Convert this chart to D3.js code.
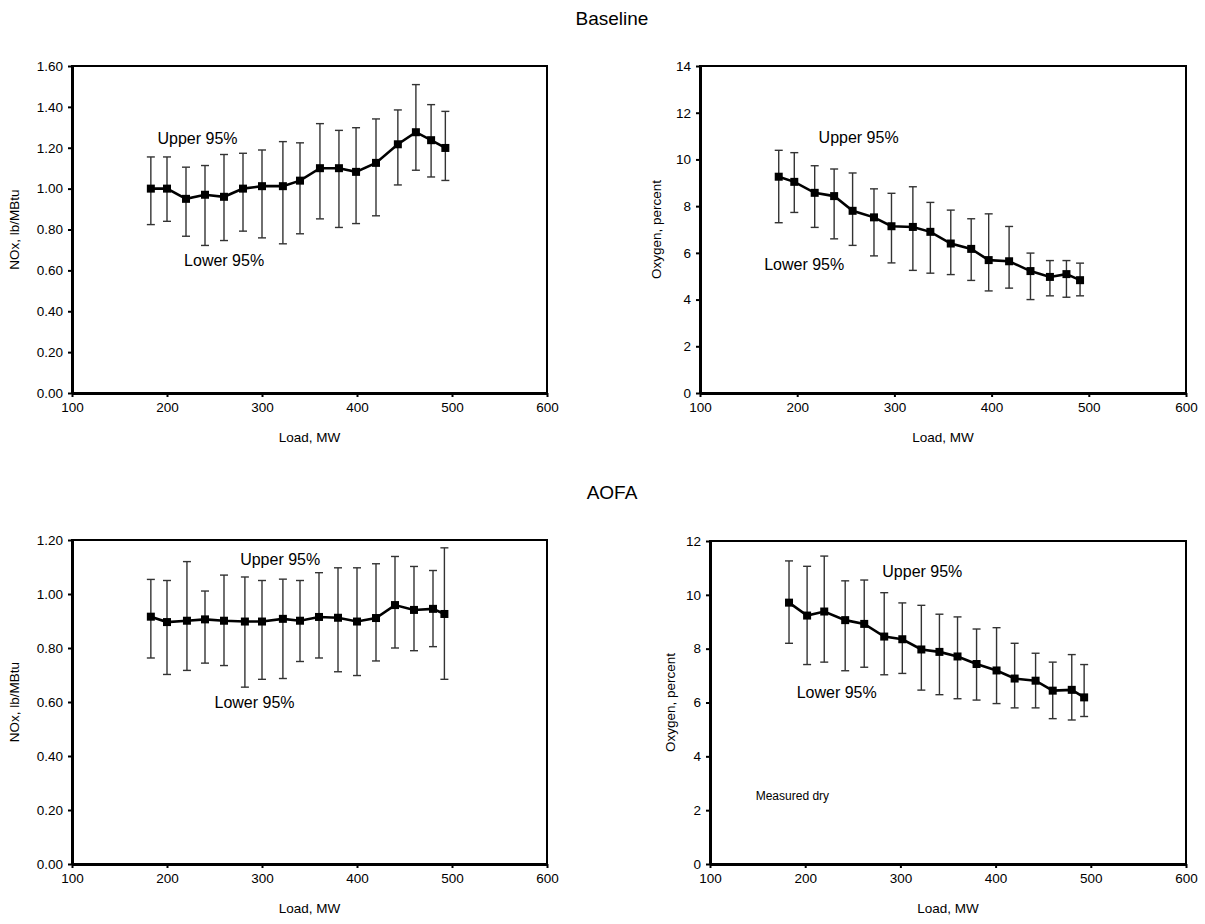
<!DOCTYPE html>
<html>
<head>
<meta charset="utf-8">
<script src="https://cdn.jsdelivr.net/npm/d3@7"></script>
<style>
	body { margin: 0; background: #fff; }
	text { font-family: Arial, "Liberation Sans", sans-serif; fill: #000; }
</style>
</head>
<body>
<script>
// ---- data ----
const xTicks = [100, 200, 300, 400, 500, 600];
const noxTicksBase = [0, 0.2, 0.4, 0.6, 0.8, 1.0, 1.2, 1.4, 1.6];
const noxTicksAofa = [0, 0.2, 0.4, 0.6, 0.8, 1.0, 1.2];
const o2TicksBase = [0, 2, 4, 6, 8, 10, 12, 14];
const o2TicksAofa = [0, 2, 4, 6, 8, 10, 12];

// Baseline NOx
const baseNoxLoad = [183, 200, 220, 240, 260, 280, 300, 322, 340, 361, 381, 399, 420, 443, 462, 478, 493];
const baseNox = [1.00, 1.00, 0.95, 0.97, 0.96, 1.00, 1.012, 1.012, 1.039, 1.10, 1.10, 1.082, 1.126, 1.217, 1.276, 1.237, 1.199];
const baseNoxUpper = [1.155, 1.155, 1.105, 1.113, 1.167, 1.173, 1.189, 1.230, 1.224, 1.318, 1.285, 1.298, 1.341, 1.385, 1.509, 1.411, 1.378];
const baseNoxLower = [0.824, 0.840, 0.767, 0.722, 0.746, 0.792, 0.759, 0.730, 0.779, 0.852, 0.810, 0.829, 0.867, 1.018, 1.090, 1.057, 1.040];

// Baseline O2
const baseO2Load = [181, 197, 218, 238, 257, 279, 297, 319, 337, 358, 379, 397, 418, 440, 460, 477, 491];
const baseO2 = [9.26, 9.04, 8.57, 8.43, 7.80, 7.52, 7.14, 7.11, 6.90, 6.40, 6.17, 5.69, 5.64, 5.22, 4.97, 5.09, 4.83];
const baseO2Upper = [10.39, 10.29, 9.73, 9.59, 9.42, 8.74, 8.55, 8.83, 8.16, 7.83, 7.46, 7.67, 7.13, 5.99, 5.67, 5.67, 5.56];
const baseO2Lower = [7.29, 7.73, 7.09, 6.60, 6.32, 5.87, 5.57, 5.25, 5.13, 5.07, 4.82, 4.37, 4.49, 4.00, 4.16, 4.10, 4.16];

// AOFA NOx
const aofaNoxLoad = [183, 200, 221, 240, 260, 282, 300, 322, 340, 360, 380, 400, 420, 440, 460, 480, 492];
const aofaNox = [0.916, 0.896, 0.901, 0.906, 0.901, 0.898, 0.898, 0.908, 0.901, 0.915, 0.912, 0.898, 0.911, 0.959, 0.941, 0.945, 0.926];
const aofaNoxUpper = [1.054, 1.050, 1.120, 1.011, 1.070, 1.063, 1.050, 1.055, 1.050, 1.079, 1.097, 1.097, 1.112, 1.139, 1.102, 1.087, 1.171];
const aofaNoxLower = [0.763, 0.702, 0.717, 0.744, 0.735, 0.655, 0.684, 0.687, 0.750, 0.763, 0.712, 0.698, 0.752, 0.800, 0.790, 0.805, 0.684];

// AOFA O2
const aofaO2Load = [183, 202, 220, 242, 262, 283, 302, 322, 341, 360, 380, 401, 420, 442, 460, 480, 493];
const aofaO2 = [9.71, 9.23, 9.38, 9.06, 8.92, 8.45, 8.35, 7.97, 7.88, 7.71, 7.43, 7.19, 6.89, 6.81, 6.44, 6.47, 6.19];
const aofaO2Upper = [11.26, 11.06, 11.44, 10.52, 10.55, 10.08, 9.70, 9.61, 9.28, 9.18, 8.73, 8.78, 8.20, 7.83, 7.50, 7.78, 7.41];
const aofaO2Lower = [8.20, 7.41, 7.50, 7.18, 7.31, 7.03, 7.08, 6.46, 6.29, 6.14, 6.09, 5.96, 5.80, 5.80, 5.40, 5.35, 5.48];

const width = 1205, height = 924;
const tickFont = '13.5px', noteFont = '16px';

let svg = d3.select('body').append('svg')
	.attr('width', width)
	.attr('height', height);

// section titles
svg.append('text').attr('x', 612).attr('y', 25)
	.attr('text-anchor', 'middle').attr('font-size', '19px').text('Baseline');
svg.append('text').attr('x', 612).attr('y', 499)
	.attr('text-anchor', 'middle').attr('font-size', '19px').text('AOFA');

drawPanel({
	box: { left: 72, right: 547, top: 66, bottom: 393 },
	load: baseNoxLoad, mean: baseNox, upper: baseNoxUpper, lower: baseNoxLower,
	yTicks: noxTicksBase, yFormat: d3.format('.2f'), yTitle: 'NOx, lb/MBtu', yTitleX: 14,
	notes: [
		{ text: 'Upper 95%', x: 190, y: 1.217, size: noteFont },
		{ text: 'Lower 95%', x: 218, y: 0.621, size: noteFont }
	]
});

drawPanel({
	box: { left: 700, right: 1186, top: 66, bottom: 393 },
	load: baseO2Load, mean: baseO2, upper: baseO2Upper, lower: baseO2Lower,
	yTicks: o2TicksBase, yFormat: d3.format('d'), yTitle: 'Oxygen, percent', yTitleX: 656,
	notes: [
		{ text: 'Upper 95%', x: 222, y: 10.71, size: noteFont },
		{ text: 'Lower 95%', x: 166, y: 5.27, size: noteFont }
	]
});

drawPanel({
	box: { left: 72, right: 547, top: 540, bottom: 864 },
	load: aofaNoxLoad, mean: aofaNox, upper: aofaNoxUpper, lower: aofaNoxLower,
	yTicks: noxTicksAofa, yFormat: d3.format('.2f'), yTitle: 'NOx, lb/MBtu', yTitleX: 14,
	notes: [
		{ text: 'Upper 95%', x: 277, y: 1.109, size: noteFont },
		{ text: 'Lower 95%', x: 250, y: 0.577, size: noteFont }
	]
});

drawPanel({
	box: { left: 710, right: 1186, top: 541, bottom: 864 },
	load: aofaO2Load, mean: aofaO2, upper: aofaO2Upper, lower: aofaO2Lower,
	yTicks: o2TicksAofa, yFormat: d3.format('d'), yTitle: 'Oxygen, percent', yTitleX: 670,
	notes: [
		{ text: 'Upper 95%', x: 281, y: 10.66, size: noteFont },
		{ text: 'Lower 95%', x: 191, y: 6.18, size: noteFont },
		{ text: 'Measured dry', x: 148, y: 2.36, size: '12px' }
	]
});

function drawPanel(p) {
	const b = p.box;
	let x = d3.scaleLinear().domain([100, 600]).range([b.left, b.right]);
	let y = d3.scaleLinear().domain([0, d3.max(p.yTicks)]).range([b.bottom, b.top]);
	let g = svg.append('g');

	// frame: thin top/right, thick axes drawn below
	g.append('rect')
		.attr('x', b.left).attr('y', b.top)
		.attr('width', b.right - b.left).attr('height', b.bottom - b.top)
		.attr('fill', 'none').attr('stroke', '#000').attr('stroke-width', 2);

	let xAxis = g.append('g')
		.attr('transform', 'translate(0,' + b.bottom + ')')
		.call(d3.axisBottom(x).tickValues(xTicks).tickSize(4).tickSizeOuter(0).tickPadding(5));
	let yAxis = g.append('g')
		.attr('transform', 'translate(' + b.left + ',0)')
		.call(d3.axisLeft(y).tickValues(p.yTicks).tickFormat(p.yFormat).tickSize(4).tickSizeOuter(0).tickPadding(5));

	[xAxis, yAxis].forEach(a => {
		a.select('.domain').attr('stroke-width', 3);
		a.selectAll('.tick line').attr('stroke-width', 2);
		a.selectAll('.tick text')
			.attr('font-size', tickFont)
			.attr('font-family', 'Arial, "Liberation Sans", sans-serif');
	});

	// axis titles
	g.append('text')
		.attr('x', (b.left + b.right) / 2).attr('y', b.bottom + 49)
		.attr('text-anchor', 'middle').attr('font-size', tickFont).text('Load, MW');
	g.append('text')
		.attr('transform', 'translate(' + p.yTitleX + ',' + (b.top + b.bottom) / 2 + ') rotate(-90)')
		.attr('dy', '0.35em')
		.attr('text-anchor', 'middle').attr('font-size', tickFont).text(p.yTitle);

	let pts = p.load.map((l, i) => ({ load: l, v: p.mean[i], hi: p.upper[i], lo: p.lower[i] }));

	// error bars
	let bars = g.append('g').attr('stroke', '#333').attr('stroke-width', 1.4);
	pts.forEach(d => {
		let cx = x(d.load);
		bars.append('line').attr('x1', cx).attr('x2', cx).attr('y1', y(d.hi)).attr('y2', y(d.lo));
		bars.append('line').attr('x1', cx - 4).attr('x2', cx + 4).attr('y1', y(d.hi)).attr('y2', y(d.hi));
		bars.append('line').attr('x1', cx - 4).attr('x2', cx + 4).attr('y1', y(d.lo)).attr('y2', y(d.lo));
	});

	// mean line + square markers
	let line = d3.line().x(d => x(d.load)).y(d => y(d.v));
	g.append('path').datum(pts)
		.attr('d', line)
		.attr('fill', 'none').attr('stroke', '#000').attr('stroke-width', 2.6);
	g.selectAll('rect.marker').data(pts).enter().append('rect')
		.attr('class', 'marker')
		.attr('x', d => x(d.load) - 4).attr('y', d => y(d.v) - 4)
		.attr('width', 8).attr('height', 8)
		.attr('fill', '#000');

	// annotations
	p.notes.forEach(n => {
		g.append('text')
			.attr('x', x(n.x)).attr('y', y(n.y))
			.attr('font-size', n.size).text(n.text);
	});
}
</script>
</body>
</html>
